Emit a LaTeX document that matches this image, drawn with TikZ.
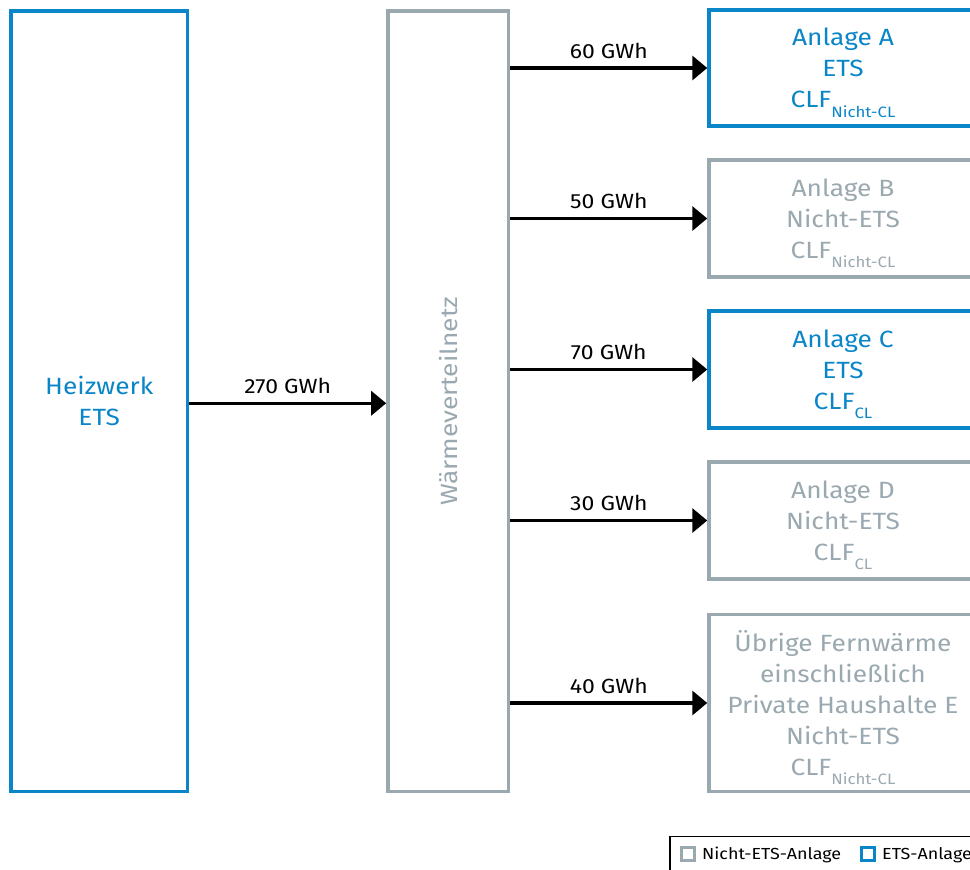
\documentclass[tikz,border=0pt]{standalone}
\usepackage{fontspec}
\setmainfont[FakeStretch=1.12]{Fira Sans}
\usetikzlibrary{arrows.meta}
\definecolor{etsblue}{HTML}{0A86C8}
\definecolor{netgray}{HTML}{9AA8B0}
\newcommand{\subx}[1]{\raisebox{-0.4em}[0pt][0pt]{\fontsize{15}{15}\selectfont #1}}
\tikzset{
  box/.style={draw, line width=3.5pt, rectangle, inner sep=0pt, align=center,
    font=\fontsize{23.5}{31}\selectfont},
  etsbox/.style={box, draw=etsblue, text=etsblue},
  nonbox/.style={box, draw=netgray, text=netgray},
  flow/.style={line width=3.5pt, -{Triangle[length=15pt,width=24pt]}},
  flowlabel/.style={font=\fontsize{20.5}{20.5}\selectfont, above=8pt, midway, inner sep=0pt},
  legbox/.style={draw, line width=2.5pt, minimum size=13pt, inner sep=0pt},
  legtext/.style={font=\fontsize{16}{16}\selectfont, anchor=west, inner sep=0pt}
}
\begin{document}
\begin{tikzpicture}[x=1pt,y=-1pt]
\useasboundingbox (0,0) rectangle (970,870);
\node[etsbox, minimum width=176.5pt, minimum height=780.5pt] (h) at (99.25,401.25) {Heizwerk\\ETS};
\node[nonbox, minimum width=120.7pt, minimum height=780.5pt] (w) at (448.3,401.25) {};
\node[text=netgray, rotate=90, font=\fontsize{23.5}{26}\selectfont] (wl) at (w.center) {Wärmeverteilnetz};
\node[etsbox, minimum width=268pt, minimum height=116pt] (a) at (843,68) {Anlage A\\ETS\\CLF\subx{Nicht-CL}};
\node[nonbox, minimum width=268pt, minimum height=117pt] (b) at (843,218.5) {Anlage B\\Nicht-ETS\\CLF\subx{Nicht-CL}};
\node[etsbox, minimum width=268pt, minimum height=117pt] (c) at (843,369.5) {Anlage C\\ETS\\CLF\subx{CL}};
\node[nonbox, minimum width=268pt, minimum height=117pt] (d) at (843,520.5) {Anlage D\\Nicht-ETS\\CLF\subx{CL}};
\node[nonbox, minimum width=268pt, minimum height=177pt] (e) at (843,703) {Übrige Fernwärme\\einschließlich\\Private Haushalte E\\Nicht-ETS\\CLF\subx{Nicht-CL}};
\draw[flow] ([yshift=-2pt]h.east) -- node[flowlabel]{270 GWh} ([yshift=-2pt]w.west);
\draw[flow] (w.east |- a.west) -- node[flowlabel]{60 GWh} (a.west);
\draw[flow] (w.east |- b.west) -- node[flowlabel]{50 GWh} (b.west);
\draw[flow] (w.east |- c.west) -- node[flowlabel]{70 GWh} (c.west);
\draw[flow] (w.east |- d.west) -- node[flowlabel]{30 GWh} (d.west);
\draw[flow] (w.east |- e.west) -- node[flowlabel]{40 GWh} (e.west);
% legend
\draw[line width=1.5pt] (670,890) -- (670,836.5) -- (990,836.5);
\node[legbox, draw=netgray] (lg) at (688,854) {};
\node[legtext] (lgt) at (702,855) {Nicht-ETS-Anlage};
\node[legbox, draw=etsblue] (lb) at (868,854) {};
\node[legtext] (lbt) at (882,855) {ETS-Anlage};
\end{tikzpicture}
\end{document}
